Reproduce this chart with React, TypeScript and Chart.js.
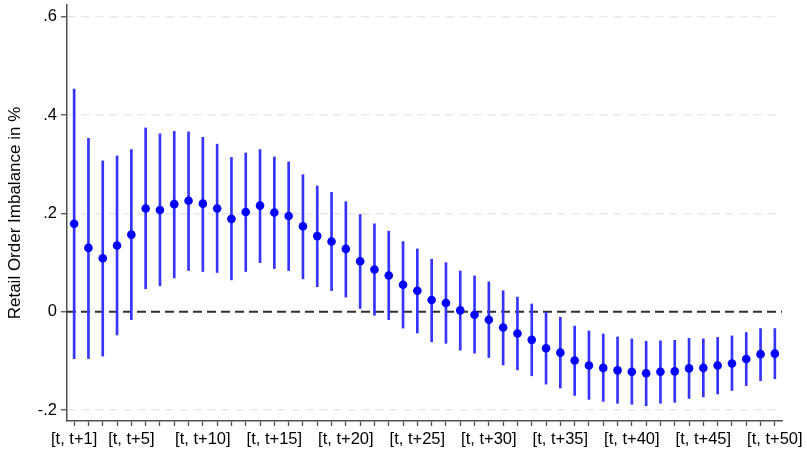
import React, { useEffect, useRef } from "react";
import { Chart, registerables } from "chart.js";

Chart.register(...registerables);

// Horizons [t, t+h]
const horizons = [
  1, 2, 3, 4, 5, 6, 7, 8, 9, 10,
  11, 12, 13, 14, 15, 16, 17, 18, 19, 20,
  21, 22, 23, 24, 25, 26, 27, 28, 29, 30,
  31, 32, 33, 34, 35, 36, 37, 38, 39, 40,
  41, 42, 43, 44, 45, 46, 47, 48, 49, 50,
];

const estimates = [
  0.179, 0.130, 0.109, 0.135, 0.157, 0.210, 0.207, 0.219, 0.226, 0.220,
  0.210, 0.189, 0.203, 0.216, 0.202, 0.195, 0.174, 0.154, 0.143, 0.128,
  0.103, 0.086, 0.074, 0.055, 0.043, 0.024, 0.018, 0.003, -0.006, -0.016,
  -0.032, -0.044, -0.057, -0.074, -0.083, -0.099, -0.109, -0.114, -0.119, -0.122,
  -0.125, -0.122, -0.121, -0.115, -0.114, -0.109, -0.105, -0.096, -0.086, -0.085,
];

const ciHigh = [
  0.453, 0.353, 0.307, 0.317, 0.330, 0.374, 0.362, 0.367, 0.366, 0.355,
  0.341, 0.314, 0.323, 0.330, 0.315, 0.305, 0.279, 0.256, 0.243, 0.224,
  0.198, 0.179, 0.164, 0.143, 0.128, 0.107, 0.100, 0.083, 0.073, 0.061,
  0.043, 0.030, 0.016, -0.001, -0.011, -0.029, -0.039, -0.045, -0.051, -0.055,
  -0.060, -0.059, -0.058, -0.054, -0.055, -0.052, -0.049, -0.042, -0.034, -0.034,
];

const ciLow = [
  -0.095, -0.095, -0.090, -0.047, -0.016, 0.047, 0.053, 0.069, 0.084, 0.082,
  0.080, 0.065, 0.082, 0.100, 0.088, 0.084, 0.067, 0.051, 0.043, 0.030,
  0.007, -0.007, -0.016, -0.033, -0.043, -0.061, -0.064, -0.078, -0.084, -0.093,
  -0.108, -0.118, -0.130, -0.147, -0.155, -0.170, -0.178, -0.182, -0.186, -0.188,
  -0.191, -0.186, -0.184, -0.176, -0.173, -0.167, -0.160, -0.150, -0.140, -0.136,
];

const labeledHorizons = [1, 5, 10, 15, 20, 25, 30, 35, 40, 45, 50];
const xTickLabels = [
  "[t, t+1]", "[t, t+5]", "[t, t+10]", "[t, t+15]", "[t, t+20]", "[t, t+25]",
  "[t, t+30]", "[t, t+35]", "[t, t+40]", "[t, t+45]", "[t, t+50]",
];

const yTickValues = [-0.2, 0, 0.2, 0.4, 0.6];
const yTickLabels = ["-.2", "0", ".2", ".4", ".6"];
const yTitle = "Retail Order Imbalance in %";

const xMin = 0.5;
const xMax = 50.5;
const yMin = -0.222;
const yMax = 0.624;
const zeroLineValue = 0;

const FONT = "'Liberation Sans', Arial, Helvetica, sans-serif";

export default function App() {
  const canvasRef = useRef<HTMLCanvasElement | null>(null);

  useEffect(() => {
    const canvas = canvasRef.current;
    if (!canvas) return;

    const chart = new Chart(canvas, {
      type: "bar",
      data: {
        datasets: [
          {
            type: "line",
            data: horizons.map((h, i) => ({ x: h, y: estimates[i] })),
            showLine: false,
            pointRadius: 4.3,
            pointBackgroundColor: "#0000ff",
            pointBorderWidth: 0,
            pointBorderColor: "#0000ff",
            order: 1,
          } as any,
          {
            type: "bar",
            data: horizons.map((h, i) => ({ x: h, y: [ciLow[i], ciHigh[i]] })),
            backgroundColor: "#3535ff",
            borderWidth: 0,
            barThickness: 2,
            order: 2,
          } as any,
          {
            type: "line",
            data: [
              { x: xMin, y: zeroLineValue },
              { x: xMax, y: zeroLineValue },
            ],
            borderColor: "#2e2e2e",
            borderWidth: 2,
            borderDash: [9, 5],
            pointRadius: 0,
            fill: false,
            order: 3,
          } as any,
        ],
      },
      options: {
        animation: false,
        responsive: false,
        maintainAspectRatio: false,
        devicePixelRatio: 1,
        layout: { padding: { top: 5, right: 25, left: 0, bottom: 0 } },
        plugins: {
          legend: { display: false },
          tooltip: { enabled: false },
        },
        scales: {
          x: {
            type: "linear",
            min: xMin,
            max: xMax,
            offset: false,
            afterBuildTicks: (scale: any) => {
              scale.ticks = horizons.map((v) => ({ value: v }));
            },
            afterFit: (scale: any) => {
              scale.height = 30;
              scale.paddingLeft = 0;
              scale.paddingRight = 0;
            },
            grid: {
              offset: false,
              drawOnChartArea: false,
              drawTicks: true,
              tickLength: 5,
              tickColor: "#505050",
              tickWidth: 1.3,
            },
            border: { display: true, color: "#505050", width: 1.5 },
            ticks: {
              autoSkip: false,
              maxRotation: 0,
              minRotation: 0,
              padding: 4,
              color: "#000000",
              font: { family: FONT, size: 16.5 },
              callback: (value: any) => {
                const idx = labeledHorizons.indexOf(Number(value));
                return idx >= 0 ? xTickLabels[idx] : "";
              },
            },
          },
          y: {
            type: "linear",
            min: yMin,
            max: yMax,
            afterBuildTicks: (scale: any) => {
              scale.ticks = yTickValues.map((v) => ({ value: v }));
            },
            afterFit: (scale: any) => {
              scale.width = 67;
              scale.paddingTop = 0;
              scale.paddingBottom = 0;
            },
            grid: {
              drawOnChartArea: true,
              drawTicks: true,
              tickLength: 6,
              tickColor: "#505050",
              tickWidth: 1.3,
              tickBorderDash: [],
              lineWidth: 1.5,
              color: (ctx: any) =>
                ctx.tick && ctx.tick.value === 0 ? "rgba(0,0,0,0)" : "#e8e8e8",
            },
            border: { display: true, color: "#505050", width: 1.5, dash: [8, 6] },
            ticks: {
              padding: 4,
              color: "#000000",
              font: { family: FONT, size: 16.5 },
              callback: (value: any) => {
                const idx = yTickValues.indexOf(Number(value));
                return idx >= 0 ? yTickLabels[idx] : "";
              },
            },
            title: {
              display: true,
              text: yTitle,
              color: "#000000",
              font: { family: FONT, size: 17 },
              padding: { top: 5, bottom: 0 },
            },
          },
        },
      } as any,
    });

    return () => {
      chart.destroy();
    };
  }, []);

  return (
    <div
      style={{
        position: "fixed",
        left: 0,
        top: 0,
        width: 807,
        height: 451,
        background: "#ffffff",
      }}
    >
      <canvas
        ref={canvasRef}
        width={807}
        height={451}
        style={{ display: "block", width: 807, height: 451 }}
      />
    </div>
  );
}
